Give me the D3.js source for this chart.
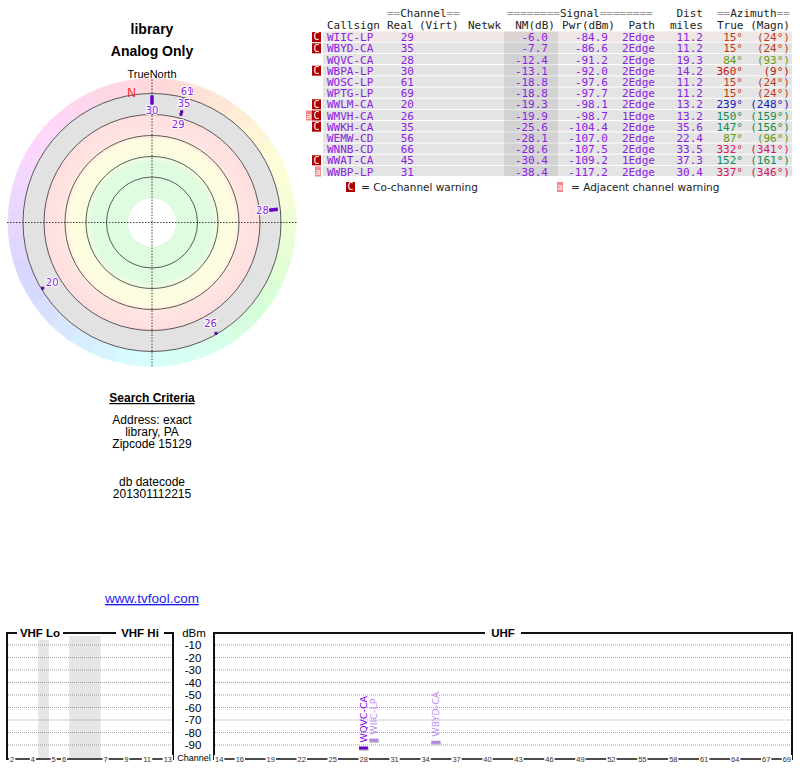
<!DOCTYPE html>
<html>
<head>
<meta charset="utf-8">
<script src="https://cdn.jsdelivr.net/npm/d3@7"></script>
<style>
  body { margin: 0; background: #fff; }
  svg { display: block; }
</style>
</head>
<body>
<svg id="chart" width="800" height="768"></svg>
<script>
// station table, sorted by noise margin
const callsigns = ["WIIC-LP", "WBYD-CA", "WQVC-CA", "WBPA-LP", "WOSC-LP", "WPTG-LP", "WWLM-CA", "WMVH-CA", "WWKH-CA", "WEMW-CD", "WNNB-CD", "WWAT-CA", "WWBP-LP"];
const realCh = [29, 35, 28, 30, 61, 69, 20, 26, 35, 56, 66, 45, 31];
const nmDb = [-6.0, -7.7, -12.4, -13.1, -18.8, -18.8, -19.3, -19.9, -25.6, -28.1, -28.6, -30.4, -38.4];
const pwrDbm = [-84.9, -86.6, -91.2, -92.0, -97.6, -97.7, -98.1, -98.7, -104.4, -107.0, -107.5, -109.2, -117.2];
const paths = ["2Edge", "2Edge", "2Edge", "2Edge", "2Edge", "2Edge", "2Edge", "1Edge", "2Edge", "2Edge", "2Edge", "1Edge", "2Edge"];
const distMi = [11.2, 11.2, 19.3, 14.2, 11.2, 11.2, 13.2, 13.2, 35.6, 22.4, 33.5, 37.3, 30.4];
const azTrue = [15, 15, 84, 360, 15, 15, 239, 150, 147, 87, 332, 152, 337];
const azMagn = [24, 24, 93, 9, 24, 24, 248, 159, 156, 96, 341, 161, 346];
const warnings = ["C", "C", "", "C", "", "", "C", "aC", "C", "", "", "C", "a"];
const highlighted = ["WQVC-CA", "WBPA-LP"];

const radarMinNm = -20;     // stations drawn on the compass
const spectrumMinNm = -13;  // stations drawn on the spectrum
const declination = -9;

const dbmTicks = [-10, -20, -30, -40, -50, -60, -70, -80, -90];
const vhfSlots = ["2", "3", "4", "g1", "5", "6", "g2", "g3", "g4", "7", "8", "9", "10", "11", "12", "13"];
const vhfGaps = ["g1", "g2", "g3", "g4"];
const vhfLabels = ["2", "4", "5", "6", "7", "9", "11", "13"];
const uhfChannels = d3.range(14, 70);
const uhfLabels = [14, 16, 19, 22, 25, 28, 31, 34, 37, 40, 43, 46, 49, 52, 55, 58, 61, 64, 67, 69];

const svg = d3.select("#chart");
const sans = "Liberation Sans, Arial, sans-serif";
const mono = "DejaVu Sans Mono, monospace";
const purple = "#8a22e0";

// ---------- titles ----------
svg.append("text").attr("x", 152).attr("y", 34).attr("text-anchor", "middle")
  .attr("font-family", sans).attr("font-weight", "bold").attr("font-size", 14).text("library");
svg.append("text").attr("x", 152).attr("y", 56).attr("text-anchor", "middle")
  .attr("font-family", sans).attr("font-weight", "bold").attr("font-size", 14).text("Analog Only");

// ---------- compass ----------
const cx = 152, cy = 222.5;
const g = svg.append("g").attr("transform", `translate(${cx},${cy})`);
const rad = d => d * Math.PI / 180;

// outer hue ring
const wedge = d3.arc().innerRadius(129).outerRadius(144);
d3.range(0, 360, 10).forEach(a => {
  const c = d3.hsl(a - 5, 0.95, 0.92).toString();
  g.append("path")
    .attr("d", wedge({ startAngle: rad(a - 5), endAngle: rad(a + 5) }))
    .attr("fill", c).attr("stroke", c).attr("stroke-width", 0.6);
});

const defs = svg.append("defs");
const grad = defs.append("radialGradient").attr("id", "bands")
  .attr("gradientUnits", "userSpaceOnUse").attr("cx", 0).attr("cy", 0).attr("r", 108);
[[0, "#e0fce0"], [60, "#e0fce0"], [68, "#fbfde0"], [82, "#fffde0"], [90, "#ffe4e2"], [108, "#ffdede"]]
  .forEach(([r, c]) => grad.append("stop").attr("offset", r / 108).attr("stop-color", c));

g.append("circle").attr("r", 129).attr("fill", "#e2e2e2");
g.append("circle").attr("r", 108).attr("fill", "url(#bands)");
g.append("circle").attr("r", 24).attr("fill", "#fff");

[45.5, 66, 87, 108, 129].forEach(r => {
  g.append("circle").attr("r", r).attr("fill", "none").attr("stroke", "#333").attr("stroke-width", 0.8);
});

// crosshair
g.append("line").attr("x1", -145).attr("x2", 145).attr("y1", 0).attr("y2", 0)
  .attr("stroke", "#111").attr("stroke-width", 0.8).attr("stroke-dasharray", "1.5,1.5");
g.append("line").attr("x1", 0).attr("x2", 0).attr("y1", -143).attr("y2", 145)
  .attr("stroke", "#111").attr("stroke-width", 0.8).attr("stroke-dasharray", "1.5,1.5");

svg.append("text").attr("x", cx).attr("y", 78).attr("text-anchor", "middle")
  .attr("font-family", sans).attr("font-size", 11).text("TrueNorth");

g.append("text")
  .attr("x", 131 * Math.sin(rad(declination))).attr("y", -131 * Math.cos(rad(declination)))
  .attr("text-anchor", "middle").attr("dominant-baseline", "central")
  .attr("font-family", sans).attr("font-size", 12).attr("fill", "#ff2020").text("N");

const rScale = d3.scaleLinear().domain([-6, -12.4, -19.9]).range([112, 122, 128]);
const polar = (az, r) => [r * Math.sin(rad(az)), -r * Math.cos(rad(az))];

const placed = [];
const labels = [];
d3.range(callsigns.length).filter(i => nmDb[i] >= radarMinNm).forEach(i => {
  const r = rScale(nmDb[i]);
  const az = azTrue[i];
  if (highlighted.includes(callsigns[i])) {
    const [x1, y1] = polar(az, r - 4.5), [x2, y2] = polar(az, r + 4.5);
    g.append("line").attr("x1", x1).attr("y1", y1).attr("x2", x2).attr("y2", y2)
      .attr("stroke", "#6a00c8").attr("stroke-width", 3.5);
  } else {
    const [x, y] = polar(az, r);
    g.append("rect").attr("x", x - 1.5).attr("y", y - 1.5).attr("width", 3).attr("height", 3)
      .attr("fill", "#5a00a8");
  }
  // label goes inside the mark, or outside when that spot is taken
  const hit = p => placed.some(q => Math.hypot(q[0] - p[0], q[1] - p[1]) < 9);
  let pos = polar(az, r - 11);
  if (hit(pos)) pos = polar(az, r + 9);
  placed.push(pos);
  labels.push({ pos, text: realCh[i] });
});
// earlier (stronger) stations end up on top
labels.reverse().forEach(l => {
  g.append("text").attr("x", l.pos[0]).attr("y", l.pos[1])
    .attr("text-anchor", "middle").attr("dominant-baseline", "central")
    .attr("font-family", "DejaVu Sans, sans-serif").attr("font-size", 10)
    .attr("fill", purple).attr("stroke", "#fff").attr("stroke-width", 2)
    .attr("paint-order", "stroke").text(l.text);
});

// ---------- search criteria ----------
const sc = svg.append("g").attr("font-family", sans).attr("text-anchor", "middle");
sc.append("text").attr("x", 152).attr("y", 402).attr("font-weight", "bold").attr("font-size", 12)
  .attr("text-decoration", "underline").text("Search Criteria");
[["Address: exact", 424], ["library, PA", 436], ["Zipcode 15129", 448], ["db datecode", 486], ["201301112215", 498]]
  .forEach(([t, y]) => sc.append("text").attr("x", 152).attr("y", y).attr("font-size", 12).text(t));
sc.append("text").attr("x", 152).attr("y", 603).attr("font-size", 13.5).attr("fill", "#1a1aee")
  .attr("text-decoration", "underline").text("www.tvfool.com");

// ---------- station table ----------
const tbl = svg.append("g").attr("font-family", mono).attr("font-size", 11);
const rowY = d3.scaleBand().domain(d3.range(callsigns.length)).range([31.5, 177.1]);
const azLight = d3.scaleLinear().domain([0, 60, 90, 150, 240, 330, 360])
  .range([0.42, 0.36, 0.33, 0.31, 0.42, 0.46, 0.42]);
const azColor = a => d3.hsl(a % 360, 0.8, azLight(a % 360)).toString();

tbl.selectAll("rect.row").data(d3.range(callsigns.length)).join("rect")
  .attr("class", "row").attr("x", 323).attr("width", 469)
  .attr("y", i => rowY(i)).attr("height", rowY.bandwidth() - 1)
  .attr("fill", i => i === 0 ? "#efe6e6" : "#e4e4e4");
tbl.append("rect").attr("x", 504).attr("width", 54).attr("y", rowY(0))
  .attr("height", rowY.range()[1] - rowY(0) - 1).attr("fill", "#000").attr("opacity", 0.08);

const hdr = (x, y, anchor, parts) => {
  const t = tbl.append("text").attr("x", x).attr("y", y).attr("text-anchor", anchor).attr("fill", "#222");
  parts.forEach(([s, c]) => t.append("tspan").attr("fill", c).text(s));
};
const eq = "#999";
hdr(387, 17, "start", [["==", eq], ["Channel", "#222"], ["==", eq]]);
hdr(507, 17, "start", [["========", eq], ["Signal", "#222"], ["========", eq]]);
hdr(703, 17, "end", [["Dist", "#222"]]);
hdr(717, 17, "start", [["==", eq], ["Azimuth", "#222"], ["==", eq]]);
[["Callsign", 327, "start"], ["Real", 387, "start"], ["(Virt)", 419, "start"], ["Netwk", 468, "start"],
 ["NM(dB)", 555, "end"], ["Pwr(dBm)", 615, "end"], ["Path", 655, "end"], ["miles", 703, "end"],
 ["True", 717, "start"], ["(Magn)", 790, "end"]]
  .forEach(([s, x, a]) => hdr(x, 29, a, [[s, "#222"]]));

const cols = [
  { get: i => callsigns[i], x: 327, anchor: "start" },
  { get: i => realCh[i], x: 414, anchor: "end" },
  { get: i => nmDb[i].toFixed(1), x: 548, anchor: "end" },
  { get: i => pwrDbm[i].toFixed(1), x: 608, anchor: "end" },
  { get: i => paths[i], x: 655, anchor: "end" },
  { get: i => distMi[i].toFixed(1), x: 703, anchor: "end" },
  { get: i => azTrue[i] + "°", x: 743, anchor: "end", color: i => azColor(azTrue[i]) },
  { get: i => "(" + azMagn[i] + "°)", x: 790, anchor: "end", color: i => azColor(azTrue[i]) }
];
cols.forEach(c => {
  tbl.selectAll(null).data(d3.range(callsigns.length)).join("text")
    .attr("x", c.x).attr("y", i => rowY(i) + rowY.bandwidth() / 2 + 4)
    .attr("text-anchor", c.anchor)
    .attr("fill", i => c.color ? c.color(i) : purple)
    .text(c.get);
});

const badgeStyle = { C: { fill: "#b00000", w: 9, fs: 10 }, a: { fill: "#f08a8a", w: 6, fs: 8.5 } };
const badge = (x, yMid, k) => {
  const b = badgeStyle[k];
  tbl.append("rect").attr("x", x).attr("y", yMid - 5).attr("width", b.w).attr("height", 10).attr("fill", b.fill);
  tbl.append("text").attr("x", x + b.w / 2).attr("y", yMid + 3.3).attr("text-anchor", "middle")
    .attr("font-size", b.fs).attr("fill", "#fff").text(k);
};
warnings.forEach((w, i) => {
  const yMid = rowY(i) + rowY.bandwidth() / 2;
  let x = 321;
  w.split("").reverse().forEach(k => { x -= badgeStyle[k].w; badge(x, yMid, k); });
});
badge(346, 187, "C");
badge(557, 187, "a");
tbl.append("text").attr("x", 361).attr("y", 191).attr("font-family", "DejaVu Sans, sans-serif")
  .attr("font-size", 10.5).attr("fill", "#222").text("= Co-channel warning");
tbl.append("text").attr("x", 571).attr("y", 191).attr("font-family", "DejaVu Sans, sans-serif")
  .attr("font-size", 10.5).attr("fill", "#222").text("= Adjacent channel warning");

// ---------- spectrum ----------
const sp = svg.append("g").attr("font-family", sans);
const y = d3.scaleLinear().domain([0, -100]).range([632.5, 757.5]);
const xv = d3.scaleBand().domain(vhfSlots).range([7, 173]);
const xu = d3.scaleBand().domain(uhfChannels).range([214, 792]);

vhfGaps.forEach(s => sp.append("rect").attr("x", xv(s)).attr("width", xv.bandwidth() + 0.3)
  .attr("y", 636).attr("height", 122).attr("fill", "#e6e6e6"));

[[8, 172], [215, 791]].forEach(([a, b]) => {
  sp.selectAll(null).data(dbmTicks).join("line")
    .attr("x1", a).attr("x2", b).attr("y1", d => y(d)).attr("y2", d => y(d))
    .attr("stroke", "#777").attr("stroke-width", 0.7).attr("stroke-dasharray", "1,1");
});

sp.selectAll(null).data(dbmTicks).join("text")
  .attr("x", 193).attr("y", d => y(d) + 4).attr("text-anchor", "middle")
  .attr("font-size", 11.5).text(d => d);
sp.append("text").attr("x", 194).attr("y", 637).attr("text-anchor", "middle").attr("font-size", 11.5).text("dBm");
sp.append("text").attr("x", 194).attr("y", 760.5).attr("text-anchor", "middle").attr("font-size", 9).text("Channel");

// frames
const frame = (x0, x1) => {
  sp.append("path").attr("d", `M${x0},760V633H${x1}V760`).attr("fill", "none")
    .attr("stroke", "#111").attr("stroke-width", 2);
  sp.append("line").attr("x1", x0).attr("x2", x1).attr("y1", 759).attr("y2", 759)
    .attr("stroke", "#111").attr("stroke-width", 1.3);
};
frame(7, 173);
frame(214, 792);

const bandLabel = (x, t, w) => {
  sp.append("rect").attr("x", x - w / 2).attr("y", 626).attr("width", w).attr("height", 14).attr("fill", "#fff");
  sp.append("text").attr("x", x).attr("y", 637).attr("text-anchor", "middle")
    .attr("font-weight", "bold").attr("font-size", 11.5).text(t);
};
bandLabel(40, "VHF Lo", 46);
bandLabel(140, "VHF Hi", 48);
bandLabel(503, "UHF", 36);

const tickLabel = (x, t) => {
  const w = String(t).length * 4.2 + 2;
  sp.append("rect").attr("x", x - w / 2).attr("y", 755).attr("width", w).attr("height", 8).attr("fill", "#fff");
  sp.append("text").attr("x", x).attr("y", 761.5).attr("text-anchor", "middle")
    .attr("font-size", 7.5).attr("fill", "#333").text(t);
};
vhfLabels.forEach(c => tickLabel(xv(c) + xv.bandwidth() / 2, c));
uhfLabels.forEach(c => tickLabel(xu(c) + xu.bandwidth() / 2, c));

// station bars
d3.range(callsigns.length).filter(i => nmDb[i] >= spectrumMinNm && realCh[i] >= 14).forEach(i => {
  const hi = highlighted.includes(callsigns[i]);
  const x0 = xu(realCh[i]);
  const yy = y(pwrDbm[i]);
  sp.append("rect").attr("x", x0 + 0.5).attr("y", yy + 0.5).attr("width", xu.bandwidth() - 0.5)
    .attr("height", 4).attr("fill", "#c8c8c8");
  sp.append("rect").attr("x", x0 + 0.6).attr("y", yy).attr("width", xu.bandwidth() - 1.5)
    .attr("height", 3).attr("fill", hi ? "#6a00c8" : "#b585e6");
  const cxl = x0 + xu.bandwidth() / 2;
  sp.append("text").attr("transform", `translate(${cxl},${yy - 4}) rotate(-90)`)
    .attr("dominant-baseline", "central")
    .attr("font-family", "DejaVu Sans, sans-serif").attr("font-size", 9.5)
    .attr("fill", hi ? "#8000e0" : "#bb8ef0").text(callsigns[i]);
});
</script>
</body>
</html>
